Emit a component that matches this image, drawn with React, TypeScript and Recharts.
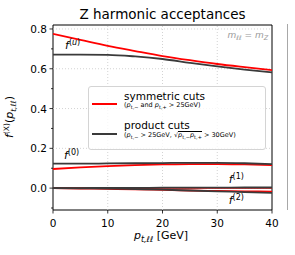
import React from 'react';
import { LineChart, Line, XAxis, YAxis, ReferenceLine, ReferenceArea, ReferenceDot } from 'recharts';

const ptValues = [0, 5, 10, 15, 20, 25, 30, 35, 40];
const symU = [0.775, 0.745, 0.715, 0.689, 0.664, 0.643, 0.624, 0.608, 0.593];
const prodU = [0.671, 0.671, 0.670, 0.662, 0.649, 0.630, 0.612, 0.596, 0.582];
const symF0 = [0.096, 0.104, 0.111, 0.116, 0.119, 0.121, 0.121, 0.119, 0.116];
const prodF0 = [0.123, 0.123, 0.124, 0.125, 0.126, 0.127, 0.127, 0.125, 0.121];
const symF1 = [0.0, 0.0, 0.0, 0.0, 0.001, 0.001, 0.001, 0.001, 0.001];
const prodF1 = [0.0, 0.0, 0.001, 0.001, 0.002, 0.002, 0.002, 0.003, 0.003];
const symF2 = [0.0, -0.002, -0.004, -0.006, -0.009, -0.012, -0.014, -0.016, -0.018];
const prodF2 = [0.0, -0.001, -0.002, -0.005, -0.008, -0.012, -0.016, -0.02, -0.024];

const xTicks = [0, 10, 20, 30, 40];
const yMajorTicks = [0, 0.2, 0.4, 0.6, 0.8];
const yAllTicks = [-0.1, 0, 0.1, 0.2, 0.3, 0.4, 0.5, 0.6, 0.7, 0.8];
const xDomain = [0, 40];
const yDomain = [-0.11, 0.82];
const gridX = [10, 20, 30];
const titleText = 'Z harmonic acceptances';
const legendSym = 'symmetric cuts';
const legendProd = 'product cuts';

const RED = '#ff0000';
const DARK = '#3a3a3a';
const FONT = '"DejaVu Sans", sans-serif';

const data = ptValues.map((pt, i) => ({
  pt,
  symU: symU[i],
  prodU: prodU[i],
  symF0: symF0[i],
  prodF0: prodF0[i],
  symF1: symF1[i],
  prodF1: prodF1[i],
  symF2: symF2[i],
  prodF2: prodF2[i],
}));

const YTick = (props: any) => {
  const { x, y, payload } = props;
  const v = payload.value;
  const major = yMajorTicks.some((m) => Math.abs(m - v) < 1e-9);
  return (
    <g>
      <line x1={x - (major ? 3.5 : 2)} x2={x} y1={y} y2={y} stroke="#000" strokeWidth={0.8} />
      {major && (
        <text x={x - 6} y={y + 4} textAnchor="end" fontSize={10.5} fontFamily={FONT} fill="#000">
          {v.toFixed(1)}
        </text>
      )}
    </g>
  );
};

const XTick = (props: any) => {
  const { x, y, payload } = props;
  return (
    <g>
      <line x1={x} x2={x} y1={y} y2={y + 3.5} stroke="#000" strokeWidth={0.8} />
      <text x={x} y={y + 17} textAnchor="middle" fontSize={10.5} fontFamily={FONT} fill="#000">
        {String(payload.value)}
      </text>
    </g>
  );
};

const FLabel = ({ cx, cy, sup }: any) => (
  <text x={cx} y={cy} fontSize={11} fontFamily={FONT} fill="#000">
    <tspan fontStyle="italic">f</tspan>
    <tspan fontSize={8} dy={-4}>
      {sup === '(u)' ? (
        <>
          (<tspan fontStyle="italic">u</tspan>)
        </>
      ) : (
        sup
      )}
    </tspan>
  </text>
);

const MLabel = ({ cx, cy }: any) => (
  <text x={cx} y={cy} textAnchor="end" fontSize={9} fontFamily={FONT} fill="#999" fontStyle="italic">
    <tspan>m</tspan>
    <tspan fontSize={6.5} dy={2}>ℓℓ</tspan>
    <tspan dy={-2}> = m</tspan>
    <tspan fontSize={6.5} dy={2}>Z</tspan>
  </text>
);

const subStyle: any = { fontSize: 5, verticalAlign: -1.5 };

export default function App() {
  return (
    <div style={{ position: 'absolute', left: 0, top: 0, width: 295, height: 255, background: '#fff', fontFamily: FONT }}>
      <LineChart
        width={295}
        height={255}
        data={data}
        margin={{ top: 25, right: 23, bottom: 15, left: 23 }}
      >
        <XAxis
          dataKey="pt"
          type="number"
          domain={xDomain}
          ticks={xTicks}
          allowDataOverflow
          axisLine={false}
          tickLine={false}
          tickSize={0}
          tickMargin={0}
          height={30}
          tick={<XTick />}
          interval={0}
        />
        <YAxis
          type="number"
          domain={yDomain}
          ticks={yAllTicks}
          allowDataOverflow
          axisLine={false}
          tickLine={false}
          tickSize={0}
          tickMargin={0}
          width={30}
          tick={<YTick />}
          interval={0}
        />
        {gridX.map((g) => (
          <ReferenceLine key={'gx' + g} x={g} stroke="#c8c8c8" strokeDasharray="1 2" strokeWidth={0.8} />
        ))}
        {yMajorTicks.map((g) => (
          <ReferenceLine key={'gy' + g} y={g} stroke="#c8c8c8" strokeDasharray="1 2" strokeWidth={0.8} />
        ))}
        <Line dataKey="symU" type="monotone" stroke={RED} strokeWidth={1.8} dot={false} isAnimationActive={false} />
        <Line dataKey="prodU" type="monotone" stroke={DARK} strokeWidth={1.8} dot={false} isAnimationActive={false} />
        <Line dataKey="symF0" type="monotone" stroke={RED} strokeWidth={1.8} dot={false} isAnimationActive={false} />
        <Line dataKey="prodF0" type="monotone" stroke={DARK} strokeWidth={1.8} dot={false} isAnimationActive={false} />
        <Line dataKey="symF1" type="monotone" stroke={RED} strokeWidth={1.8} dot={false} isAnimationActive={false} />
        <Line dataKey="symF2" type="monotone" stroke={RED} strokeWidth={1.8} dot={false} isAnimationActive={false} />
        <Line dataKey="prodF1" type="monotone" stroke={DARK} strokeWidth={1.8} dot={false} isAnimationActive={false} />
        <Line dataKey="prodF2" type="monotone" stroke={DARK} strokeWidth={1.8} dot={false} isAnimationActive={false} />
        <ReferenceArea x1={0} x2={40} y1={-0.11} y2={0.82} fill="none" fillOpacity={0} stroke="#000" strokeWidth={1} ifOverflow="visible" />
        <ReferenceDot x={2.2} y={0.7} r={1} ifOverflow="visible" shape={(p: any) => <FLabel cx={p.cx} cy={p.cy} sup="(u)" />} />
        <ReferenceDot x={2.0} y={0.146} r={1} ifOverflow="visible" shape={(p: any) => <FLabel cx={p.cx} cy={p.cy} sup="(0)" />} />
        <ReferenceDot x={32.1} y={0.025} r={1} ifOverflow="visible" shape={(p: any) => <FLabel cx={p.cx} cy={p.cy} sup="(1)" />} />
        <ReferenceDot x={32.1} y={-0.08} r={1} ifOverflow="visible" shape={(p: any) => <FLabel cx={p.cx} cy={p.cy} sup="(2)" />} />
        <ReferenceDot x={39.3} y={0.757} r={1} ifOverflow="visible" shape={(p: any) => <MLabel cx={p.cx} cy={p.cy} />} />
      </LineChart>

      <svg width={295} height={255} style={{ position: 'absolute', left: 0, top: 0, pointerEvents: 'none' }}>
        <text x={162.5} y={19} textAnchor="middle" fontSize={13.5} fontFamily={FONT} fill="#000">
          {titleText}
        </text>
        <text x={161} y={239} textAnchor="middle" fontSize={11} fontFamily={FONT} fill="#000">
          <tspan fontStyle="italic">p</tspan>
          <tspan fontStyle="italic" fontSize={8} dy={3}>t,ℓℓ</tspan>
          <tspan dy={-3}> [GeV]</tspan>
        </text>
        <text x={0} y={0} transform="translate(13,117) rotate(-90)" textAnchor="middle" fontSize={11} fontFamily={FONT} fill="#000">
          <tspan fontStyle="italic">f</tspan>
          <tspan fontSize={7.5} dy={-4}>(X)</tspan>
          <tspan dy={4}>(</tspan>
          <tspan fontStyle="italic">p</tspan>
          <tspan fontStyle="italic" fontSize={7.5} dy={3}>t,ℓℓ</tspan>
          <tspan dy={-3}>)</tspan>
        </text>
      </svg>

      <div
        style={{
          position: 'absolute',
          left: 88,
          top: 86,
          width: 178,
          height: 64,
          boxSizing: 'border-box',
          border: '1px solid #d4d4d4',
          borderRadius: 3,
          background: 'rgba(255,255,255,0.8)',
          fontFamily: FONT,
          color: '#000',
        }}
      >
        <div style={{ position: 'absolute', left: 3, top: 16, width: 25, height: 2, background: RED }} />
        <div style={{ position: 'absolute', left: 35, top: 4, fontSize: 10.5, lineHeight: '11px', whiteSpace: 'nowrap' }}>
          {legendSym}
        </div>
        <div style={{ position: 'absolute', left: 35, top: 14.5, fontSize: 6.5, lineHeight: '7px', whiteSpace: 'nowrap' }}>
          (<i>p</i><sub style={subStyle}>t,−</sub> and <i>p</i><sub style={subStyle}>t,+</sub> &gt; 25GeV)
        </div>
        <div style={{ position: 'absolute', left: 3, top: 46, width: 25, height: 2, background: DARK }} />
        <div style={{ position: 'absolute', left: 35, top: 33, fontSize: 10.5, lineHeight: '11px', whiteSpace: 'nowrap' }}>
          {legendProd}
        </div>
        <div style={{ position: 'absolute', left: 35, top: 44, fontSize: 6.5, lineHeight: '7px', whiteSpace: 'nowrap' }}>
          (<i>p</i><sub style={subStyle}>t,−</sub> &gt; 25GeV, √<span style={{ display: 'inline-block', lineHeight: '7px', borderTop: '0.7px solid #000', paddingTop: 0 }}><i>p</i><sub style={subStyle}>t,−</sub><i>p</i><sub style={subStyle}>t,+</sub></span> &gt; 30GeV)
        </div>
      </div>

      <div style={{ position: 'absolute', left: 287, top: 24, width: 1, height: 186, background: '#a8a8a8' }} />
    </div>
  );
}
